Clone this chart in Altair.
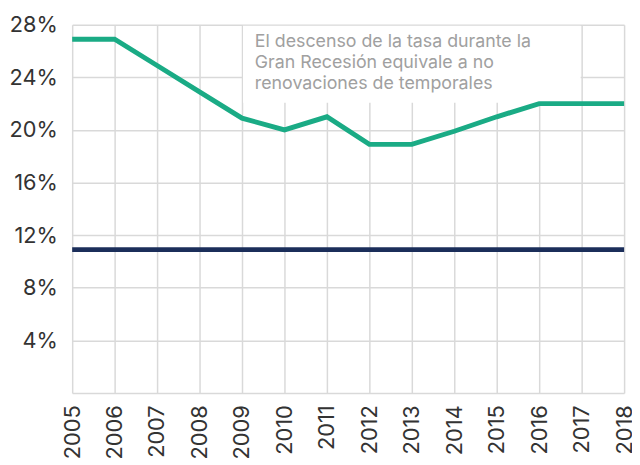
import altair as alt
import pandas as pd

years = list(range(2005, 2019))
green_values = [26.9, 26.9, 24.9, 22.9, 20.9, 20.0, 21.0, 18.9, 18.9, 19.9, 21.0, 22.0, 22.0, 22.0]
navy_values = [10.9] * 14
series_names = ["Tasa", "Referencia"]
series_colors = ["#1aab85", "#1b2e5a"]
note_lines = ["El descenso de la tasa durante la",
              "Gran Recesión equivale a no",
              "renovaciones de temporales"]
y_ticks = list(range(0, 29, 2))

rows = []
for yr, g, n in zip(years, green_values, navy_values):
    rows.append({"year": yr, "value": g, "series": series_names[0]})
    rows.append({"year": yr, "value": n, "series": series_names[1]})
df = pd.DataFrame(rows)

box = pd.DataFrame([{"x": 2009, "x2": 2017, "y": 22, "y2": 28}])
note = pd.DataFrame([{"x": 2009, "y": 28, "text": note_lines}])

FONT = "Inter"

x_enc = alt.X("year:Q", scale=alt.Scale(domain=[2005, 2018], nice=False, zero=False),
              axis=alt.Axis(values=years, format="d", labelAngle=-90, labelAlign="right",
                            labelBaseline="middle", labelPadding=12, labelFontSize=22,
                            labelColor="#333333", labelFont=FONT, ticks=False, domain=False,
                            grid=True, gridColor="#d9d9d9", gridWidth=1.5, title=None))
y_enc = alt.Y("value:Q", scale=alt.Scale(domain=[0, 28], nice=False),
              axis=alt.Axis(values=y_ticks,
                            labelExpr="datum.value % 4 == 0 && datum.value > 0 ? datum.value + '%' : ''",
                            labelPadding=15, labelFontSize=22, labelColor="#333333", labelFont=FONT,
                            ticks=False, domain=False, grid=True, gridColor="#d9d9d9",
                            gridWidth=1.5, title=None))

lines = alt.Chart(df).mark_line(strokeWidth=5).encode(
    x=x_enc, y=y_enc,
    color=alt.Color("series:N", scale=alt.Scale(domain=series_names, range=series_colors), legend=None),
)

rect = alt.Chart(box).mark_rect(color="white", xOffset=1, x2Offset=-1, yOffset=-1, y2Offset=1).encode(
    x="x:Q", x2="x2:Q", y="y:Q", y2="y2:Q")

text = alt.Chart(note).mark_text(align="left", baseline="top", dx=13, dy=9, fontSize=18,
                                 lineHeight=21, color="#a0a0a0", font=FONT).encode(
    x="x:Q", y="y:Q", text="text")

chart = alt.layer(rect, lines, text).properties(
    width=559, height=373,
    autosize=alt.AutoSizeParams(type="none"),
    padding={"left": 65, "top": 14, "right": 8, "bottom": 70},
).configure_view(stroke=None)

chart.save("out.html", embed_options={"renderer": "svg", "actions": False})
